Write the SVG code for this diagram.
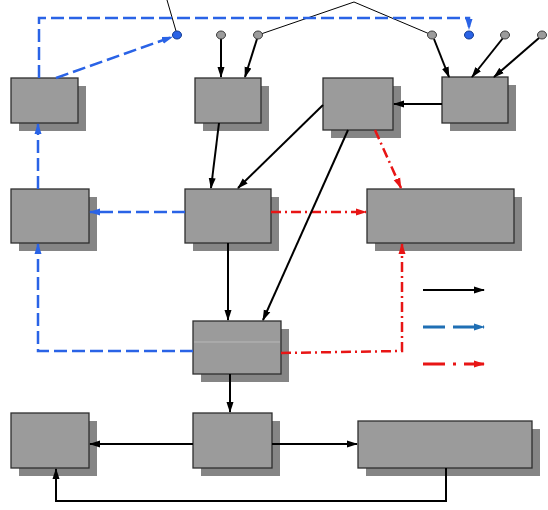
<svg xmlns="http://www.w3.org/2000/svg" width="548" height="510" viewBox="0 0 548 510">
<style>
.sh{fill:#858585}
.bx{fill:#9b9b9b;stroke:#2e2e2e;stroke-width:1.3}
.k{fill:none;stroke:#000;stroke-width:2}
.t{fill:none;stroke:#000;stroke-width:1}
.b{fill:none;stroke:#2a63e6;stroke-width:2.5;stroke-dasharray:13 5}
.r{fill:none;stroke:#e81515;stroke-width:2.5;stroke-dasharray:10 4 2 4}
.gc{fill:#9b9b9b;stroke:#3a3a3a;stroke-width:1}
.bc{fill:#2a63e6;stroke:#123a90;stroke-width:1}
</style>
<defs>
<marker id="ak" markerUnits="userSpaceOnUse" markerWidth="11" markerHeight="8" refX="10" refY="4" orient="auto"><path d="M0,0.5 L11,4 L0,7.5 Z" fill="#000"/></marker>
<marker id="ab" markerUnits="userSpaceOnUse" markerWidth="11" markerHeight="8" refX="10" refY="4" orient="auto"><path d="M0,0.5 L11,4 L0,7.5 Z" fill="#2a63e6"/></marker>
<marker id="ar" markerUnits="userSpaceOnUse" markerWidth="11" markerHeight="8" refX="10" refY="4" orient="auto"><path d="M0,0.5 L11,4 L0,7.5 Z" fill="#e81515"/></marker>
<marker id="al" markerUnits="userSpaceOnUse" markerWidth="11" markerHeight="8" refX="10" refY="4" orient="auto"><path d="M0,0.5 L11,4 L0,7.5 Z" fill="#1f6fb4"/></marker>
</defs>
<rect width="548" height="510" fill="#fff"/>
<g id="nodeA"><rect class="sh" x="19" y="86" width="67" height="45"/><rect class="bx" x="11" y="78" width="67" height="45"/></g>
<g id="nodeB"><rect class="sh" x="203" y="86" width="66" height="45"/><rect class="bx" x="195" y="78" width="66" height="45"/></g>
<g id="nodeC"><rect class="sh" x="331" y="86" width="70" height="52"/><rect class="bx" x="323" y="78" width="70" height="52"/></g>
<g id="nodeD"><rect class="sh" x="450" y="85" width="66" height="46"/><rect class="bx" x="442" y="77" width="66" height="46"/></g>
<g id="nodeE"><rect class="sh" x="19" y="197" width="78" height="54"/><rect class="bx" x="11" y="189" width="78" height="54"/></g>
<g id="nodeF"><rect class="sh" x="193" y="197" width="86" height="54"/><rect class="bx" x="185" y="189" width="86" height="54"/></g>
<g id="nodeG"><rect class="sh" x="375" y="197" width="147" height="54"/><rect class="bx" x="367" y="189" width="147" height="54"/></g>
<g id="nodeH"><rect class="sh" x="201" y="329" width="88" height="53"/><rect class="bx" x="193" y="321" width="88" height="53"/><line x1="194" y1="342" x2="280" y2="342" stroke="#b8b8b8" stroke-width="1"/></g>
<g id="nodeI"><rect class="sh" x="19" y="421" width="78" height="55"/><rect class="bx" x="11" y="413" width="78" height="55"/></g>
<g id="nodeJ"><rect class="sh" x="201" y="421" width="79" height="55"/><rect class="bx" x="193" y="413" width="79" height="55"/></g>
<g id="nodeK"><rect class="sh" x="366" y="429" width="174" height="47"/><rect class="bx" x="358" y="421" width="174" height="47"/></g>
<g id="connectors">
<line class="t" x1="167" y1="0" x2="176" y2="31"/>
<polyline class="t" points="258,35 354,2 432,35"/>
<polyline class="b" points="39,78 39,18 469,18 469,29" marker-end="url(#ab)"/>
<line class="b" x1="56" y1="78" x2="172" y2="37" marker-end="url(#ab)"/>
<line class="b" x1="38" y1="189" x2="38" y2="124" marker-end="url(#ab)"/>
<line class="b" x1="185" y1="212" x2="90" y2="212" marker-end="url(#ab)"/>
<polyline class="b" points="193,351 38,351 38,244" marker-end="url(#ab)"/>
<line class="r" x1="271" y1="212" x2="366" y2="212" marker-end="url(#ar)"/>
<line class="r" x1="375" y1="130" x2="401" y2="188" marker-end="url(#ar)"/>
<polyline class="r" points="281,353 402,351 402,244" marker-end="url(#ar)"/>
<line class="k" x1="221" y1="39" x2="221" y2="77" marker-end="url(#ak)"/>
<line class="k" x1="257" y1="39" x2="245" y2="77" marker-end="url(#ak)"/>
<line class="k" x1="434" y1="39" x2="449" y2="77" marker-end="url(#ak)"/>
<line class="k" x1="503" y1="38" x2="472" y2="77" marker-end="url(#ak)"/>
<line class="k" x1="539" y1="38" x2="494" y2="77" marker-end="url(#ak)"/>
<line class="k" x1="442" y1="104" x2="394" y2="104" marker-end="url(#ak)"/>
<line class="k" x1="219" y1="123" x2="211" y2="188" marker-end="url(#ak)"/>
<line class="k" x1="323" y1="105" x2="238" y2="188" marker-end="url(#ak)"/>
<line class="k" x1="348" y1="130" x2="263" y2="320" marker-end="url(#ak)"/>
<line class="k" x1="228" y1="243" x2="228" y2="320" marker-end="url(#ak)"/>
<line class="k" x1="230" y1="374" x2="230" y2="412" marker-end="url(#ak)"/>
<line class="k" x1="193" y1="444" x2="90" y2="444" marker-end="url(#ak)"/>
<line class="k" x1="272" y1="444" x2="357" y2="444" marker-end="url(#ak)"/>
<polyline class="k" points="446,468 446,501 56,501 56,469" marker-end="url(#ak)"/>
</g>
<g id="legend">
<line x1="423" y1="290" x2="484" y2="290" stroke="#000" stroke-width="2" marker-end="url(#ak)"/>
<line x1="423" y1="327" x2="484" y2="327" stroke="#1f6fb4" stroke-width="3" stroke-dasharray="22 8" marker-end="url(#al)"/>
<line x1="423" y1="364" x2="484" y2="364" stroke="#e81515" stroke-width="3" stroke-dasharray="22 8 3 8" marker-end="url(#ar)"/>
</g>
<g id="pins">
<ellipse class="gc" cx="221" cy="35" rx="4.5" ry="4"/>
<ellipse class="gc" cx="258" cy="35" rx="4.5" ry="4"/>
<ellipse class="gc" cx="432" cy="35" rx="4.5" ry="4"/>
<ellipse class="gc" cx="505" cy="35" rx="4.5" ry="4"/>
<ellipse class="gc" cx="542" cy="35" rx="4.5" ry="4"/>
<ellipse class="bc" cx="177" cy="35" rx="4.5" ry="4"/>
<ellipse class="bc" cx="469" cy="35" rx="4.5" ry="4"/>
</g>
</svg>
